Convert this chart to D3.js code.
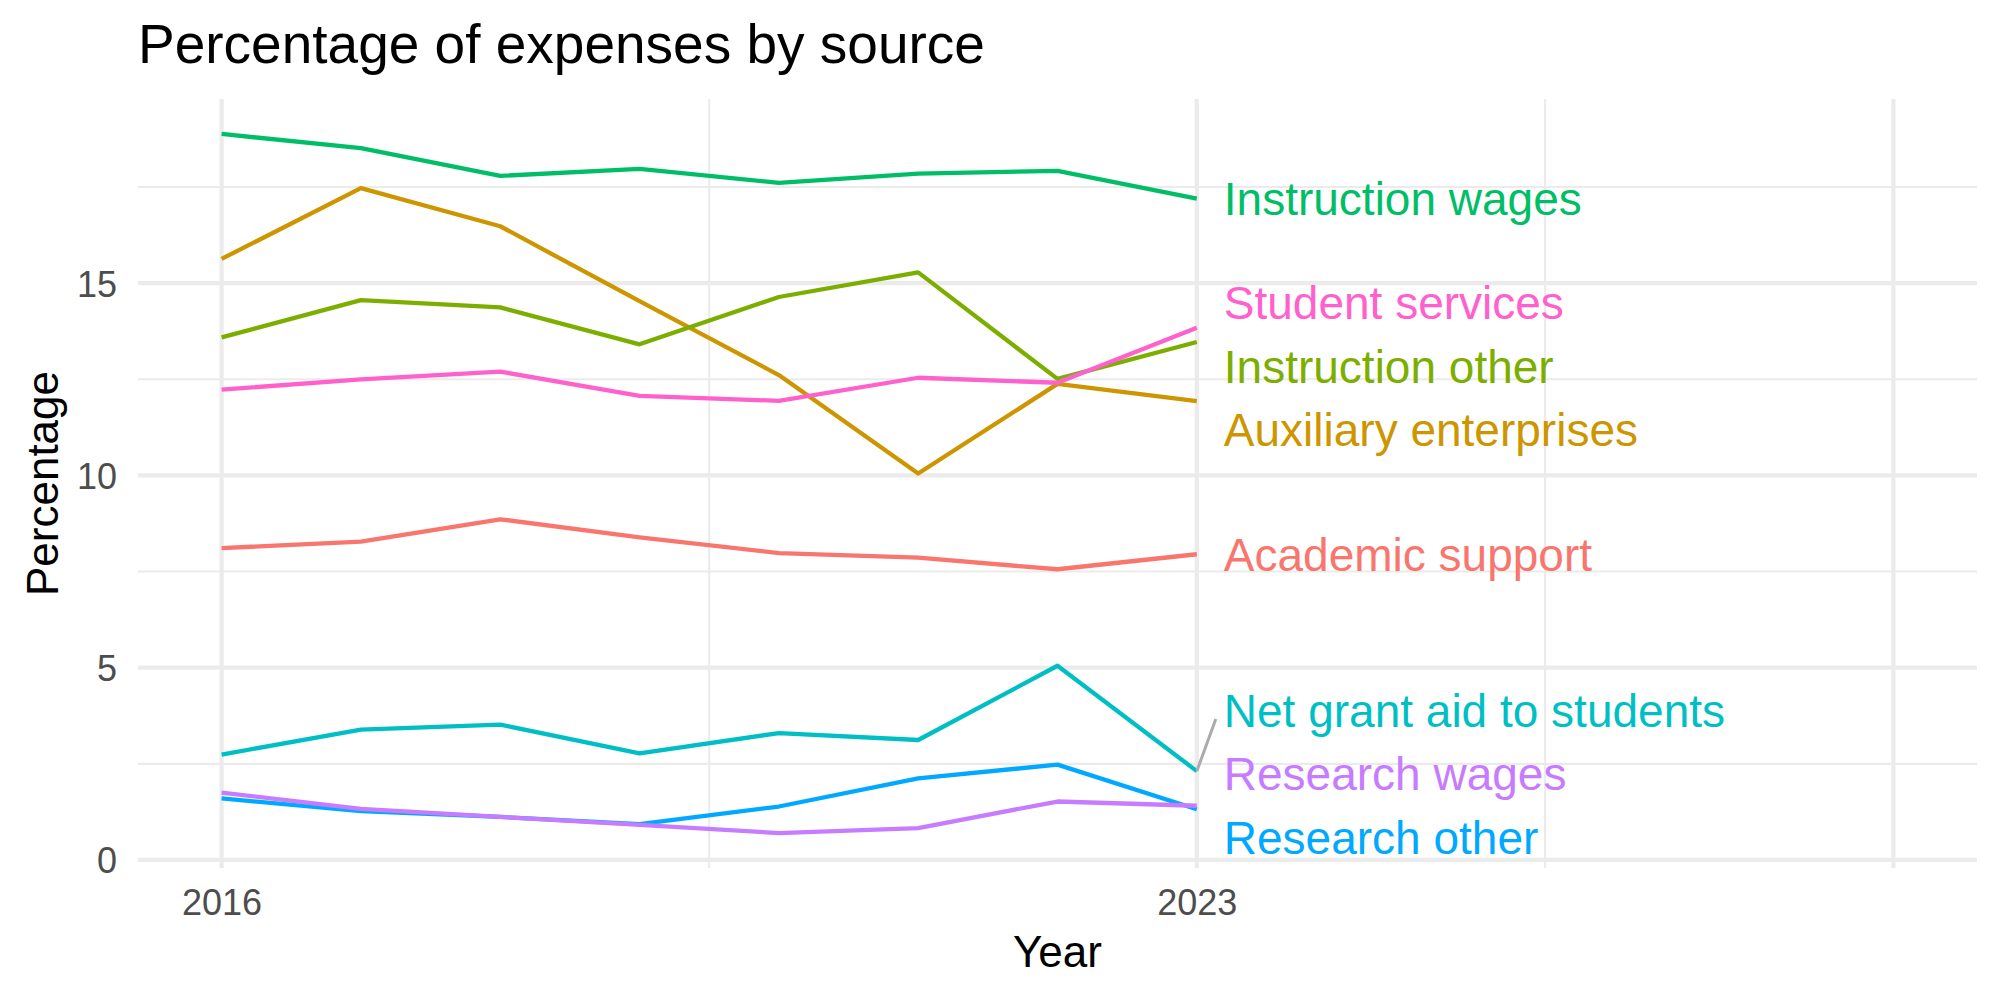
<!DOCTYPE html>
<html>
<head>
<meta charset="utf-8">
<script src="https://cdn.jsdelivr.net/npm/d3@7"></script>
<style>
  html, body { margin: 0; padding: 0; background: #ffffff; }
  svg { display: block; font-family: "Liberation Sans", Arial, Helvetica, sans-serif; }
</style>
</head>
<body>
<svg id="chart" width="2000" height="1000"></svg>
<script>
// ---------------- data ----------------
const years = [2016, 2017, 2018, 2019, 2020, 2021, 2022, 2023];
const seriesNames = [
  "Academic support", "Auxiliary enterprises", "Instruction other", "Instruction wages",
  "Net grant aid to students", "Research other", "Research wages", "Student services"
];
const academicSupport      = [8.11, 8.28, 8.86, 8.39, 7.98, 7.86, 7.56, 7.95];
const auxiliaryEnterprises = [15.63, 17.47, 16.48, 14.53, 12.61, 10.05, 12.38, 11.93];
const instructionOther     = [13.59, 14.56, 14.37, 13.41, 14.64, 15.28, 12.51, 13.47];
const instructionWages     = [18.88, 18.51, 17.79, 17.97, 17.61, 17.85, 17.92, 17.20];
const netGrantAid          = [2.74, 3.39, 3.52, 2.77, 3.30, 3.12, 5.05, 2.31];
const researchOther        = [1.60, 1.27, 1.12, 0.93, 1.39, 2.12, 2.48, 1.32];
const researchWages        = [1.75, 1.33, 1.12, 0.91, 0.70, 0.83, 1.52, 1.41];
const studentServices      = [12.23, 12.50, 12.70, 12.07, 11.94, 12.54, 12.41, 13.84];
const seriesColors = ["#F8766D", "#CD9600", "#7CAE00", "#00BE67", "#00BFC4", "#00A9FF", "#C77CFF", "#FF61CC"];

const xLimits = [2016, 2028];
const xBreaks = [2016, 2023, 2028];
const xBreakLabels = ["2016", "2023", ""];
const xMinorBreaks = [2019.5, 2025.5];
const yBreaks = [0, 5, 10, 15];
const yMinorBreaks = [2.5, 7.5, 12.5, 17.5];

const titleText = "Percentage of expenses by source";
const xTitle = "Year";
const yTitle = "Percentage";

// ---------------- build ----------------
const valueLists = [academicSupport, auxiliaryEnterprises, instructionOther, instructionWages,
                    netGrantAid, researchOther, researchWages, studentServices];
const series = seriesNames.map((name, i) => ({
  name, color: seriesColors[i],
  values: years.map((yr, j) => ({ year: yr, value: valueLists[i][j] }))
}));

const svg = d3.select("#chart");
const panel = { left: 138, right: 1977, top: 99, bottom: 868 };

function expand(ext, f) { const d = (ext[1] - ext[0]) * f; return [ext[0] - d, ext[1] + d]; }

const x = d3.scaleLinear().domain(expand(xLimits, 0.05)).range([panel.left, panel.right]);
const allVals = valueLists.flat();
const y = d3.scaleLinear().domain(expand(d3.extent(allVals), 0.05)).range([panel.bottom, panel.top]);

const grid = svg.append("g");
// minor grid
grid.selectAll(".ymin").data(yMinorBreaks).join("line")
  .attr("x1", panel.left).attr("x2", panel.right)
  .attr("y1", d => y(d)).attr("y2", d => y(d))
  .attr("stroke", "#EBEBEB").attr("stroke-width", 2.1);
grid.selectAll(".xmin").data(xMinorBreaks).join("line")
  .attr("y1", panel.top).attr("y2", panel.bottom)
  .attr("x1", d => x(d)).attr("x2", d => x(d))
  .attr("stroke", "#EBEBEB").attr("stroke-width", 2.1);
// major grid
grid.selectAll(".ymaj").data(yBreaks).join("line")
  .attr("x1", panel.left).attr("x2", panel.right)
  .attr("y1", d => y(d)).attr("y2", d => y(d))
  .attr("stroke", "#EBEBEB").attr("stroke-width", 4.2);
grid.selectAll(".xmaj").data(xBreaks).join("line")
  .attr("y1", panel.top).attr("y2", panel.bottom)
  .attr("x1", d => x(d)).attr("x2", d => x(d))
  .attr("stroke", "#EBEBEB").attr("stroke-width", 4.2);

// axes (labels only, via d3 axes)
const xAxis = d3.axisBottom(x).tickValues(xBreaks).tickFormat((d, i) => xBreakLabels[i]).tickSize(0).tickPadding(0);
const gx = svg.append("g").attr("transform", `translate(0, ${panel.bottom})`).call(xAxis);
gx.select(".domain").remove();
gx.selectAll("text").attr("font-size", 36).attr("fill", "#4D4D4D")
  .attr("font-family", "Liberation Sans, Arial, sans-serif")
  .attr("dy", null).attr("y", 47);

const yAxis = d3.axisLeft(y).tickValues(yBreaks).tickFormat(d3.format("d")).tickSize(0).tickPadding(0);
const gy = svg.append("g").attr("transform", `translate(${117}, 0)`).call(yAxis);
gy.select(".domain").remove();
gy.selectAll("text").attr("font-size", 36).attr("fill", "#4D4D4D")
  .attr("font-family", "Liberation Sans, Arial, sans-serif")
  .attr("x", 0).attr("dy", "0.36em");

// lines
const line = d3.line().x(d => x(d.year)).y(d => y(d.value));
svg.append("g").selectAll("path").data(series).join("path")
  .attr("d", d => line(d.values))
  .attr("fill", "none")
  .attr("stroke", d => d.color)
  .attr("stroke-width", 4.3)
  .attr("stroke-linejoin", "round");

// end labels with simple 1-D repel
const lastYear = years[years.length - 1];
const labels = series.map(s => {
  const v = s.values[s.values.length - 1].value;
  return { name: s.name, color: s.color, py: y(v), ly: y(v) };
}).sort((a, b) => a.py - b.py);
const gap = 63.5, minY = panel.top + 31, maxY = panel.bottom - 31;
for (let it = 0; it < 500; it++) {
  for (let i = 1; i < labels.length; i++) {
    const d = labels[i].ly - labels[i - 1].ly;
    if (d < gap) {
      const o = (gap - d) / 2;
      labels[i - 1].ly -= o * 0.75; labels[i].ly += o * 1.25;
    }
  }
  labels.forEach(l => { l.ly = Math.max(minY, Math.min(maxY, l.ly)); });
}
const labelX = x(lastYear) + 27;
const lg = svg.append("g");
labels.forEach(l => {
  if (Math.abs(l.ly - l.py) > 40) {
    lg.append("line")
      .attr("x1", x(lastYear)).attr("y1", l.py)
      .attr("x2", labelX - 8).attr("y2", l.ly + (l.py > l.ly ? 9 : -9))
      .attr("stroke", "#ABABAB").attr("stroke-width", 3);
  }
  lg.append("text")
    .attr("x", labelX).attr("y", l.ly).attr("dy", "0.36em")
    .attr("font-size", 46).attr("fill", l.color)
    .text(l.name);
});

// titles
svg.append("text").attr("x", panel.left).attr("y", 63)
  .attr("font-size", 55).attr("fill", "#000").text(titleText);
svg.append("text").attr("x", (panel.left + panel.right) / 2).attr("y", 967)
  .attr("text-anchor", "middle").attr("font-size", 44).attr("fill", "#000").text(xTitle);
svg.append("text")
  .attr("transform", `translate(58, ${(panel.top + panel.bottom) / 2}) rotate(-90)`)
  .attr("text-anchor", "middle").attr("font-size", 44).attr("fill", "#000").text(yTitle);
</script>
</body>
</html>
